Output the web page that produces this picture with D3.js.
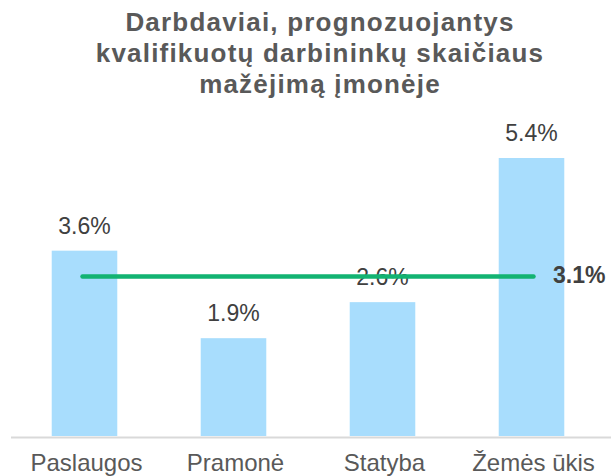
<!DOCTYPE html>
<html>
<head>
<meta charset="utf-8">
<script src="https://cdn.jsdelivr.net/npm/d3@7"></script>
<style>
  body { margin: 0; background: #fff; }
  text { font-family: "Liberation Sans", Arial, sans-serif; }
</style>
</head>
<body>
<div id="chart"></div>
<script>
// data
const categories = ["Paslaugos", "Pramonė", "Statyba", "Žemės ūkis"];
const values = [3.6, 1.9, 2.6, 5.4];
const average = 3.1;
const titleLines = ["Darbdaviai, prognozuojantys", "kvalifikuotų darbininkų skaičiaus", "mažėjimą įmonėje"];

const svgWidth = 611, svgHeight = 476;
const baseY = 436;

var svg = d3.select("#chart")
    .append("svg")
    .attr("width", svgWidth)
    .attr("height", svgHeight);

// title
svg.append("g")
    .selectAll("text")
    .data(titleLines)
    .join("text")
    .attr("x", 320)
    .attr("y", (d, i) => 31 + i * 31)
    .attr("text-anchor", "middle")
    .style("font-size", "26px")
    .style("letter-spacing", "1.2px")
    .style("font-weight", "bold")
    .style("fill", "#595959")
    .text(d => d);

const x = d3.scaleBand()
    .domain(categories)
    .range([10, 606])
    .paddingInner(0.56)
    .paddingOuter(0.28);

const y = d3.scaleLinear()
    .domain([0, 5.4])
    .range([baseY, 158]);

// bars
svg.selectAll(".bar")
    .data(values)
    .join("rect")
    .attr("class", "bar")
    .attr("x", (d, i) => x(categories[i]))
    .attr("y", d => y(d))
    .attr("width", x.bandwidth())
    .attr("height", d => baseY - y(d))
    .attr("fill", "#a8ddfd");

// baseline
svg.append("line")
    .attr("x1", 11)
    .attr("x2", svgWidth)
    .attr("y1", baseY + 1.5)
    .attr("y2", baseY + 1.5)
    .attr("stroke", "#d9d9d9")
    .attr("stroke-width", 2);

// value labels
svg.selectAll(".val")
    .data(values)
    .join("text")
    .attr("class", "val")
    .attr("x", (d, i) => x(categories[i]) + x.bandwidth() / 2)
    .attr("y", d => y(d) - 17)
    .attr("text-anchor", "middle")
    .style("font-size", "23px")
    .style("fill", "#404040")
    .text(d => d.toFixed(1) + "%");

// average line
const first = categories[0], last = categories[categories.length - 1];
svg.append("line")
    .attr("x1", x(first) + x.bandwidth() / 2 - 2)
    .attr("x2", x(last) + x.bandwidth() / 2 + 2)
    .attr("y1", y(average))
    .attr("y2", y(average))
    .attr("stroke", "#12b372")
    .attr("stroke-width", 4.5)
    .attr("stroke-linecap", "round");

svg.append("text")
    .attr("x", 553)
    .attr("y", y(average) + 7)
    .style("font-size", "23px")
    .style("font-weight", "bold")
    .style("fill", "#404040")
    .text(average.toFixed(1) + "%");

// category labels
svg.selectAll(".cat")
    .data(categories)
    .join("text")
    .attr("class", "cat")
    .attr("x", d => x(d) + x.bandwidth() / 2 + 2)
    .attr("y", 471)
    .attr("text-anchor", "middle")
    .style("font-size", "24px")
    .style("fill", "#595959")
    .text(d => d);
</script>
</body>
</html>
